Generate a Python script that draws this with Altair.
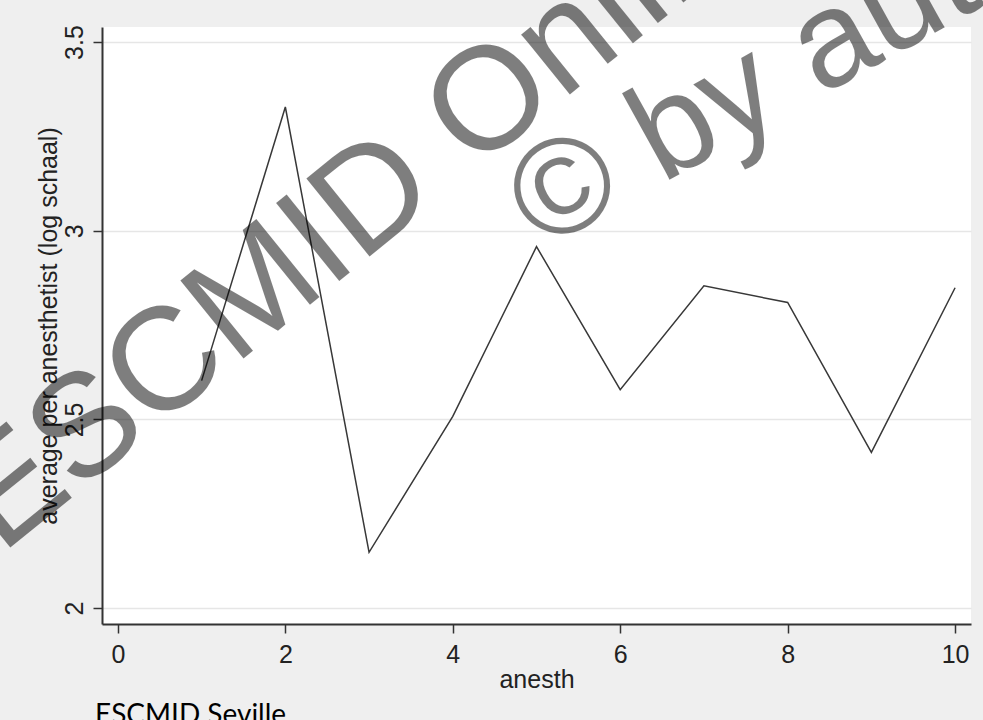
import altair as alt
import pandas as pd

# Average (log scale) per anesthetist
anesth = [1, 2, 3, 4, 5, 6, 7, 8, 9, 10]
avg_log = [2.603, 3.328, 2.148, 2.508, 2.958, 2.579, 2.854, 2.810, 2.413, 2.849]

x_ticks = [0, 2, 4, 6, 8, 10]
y_ticks = [2, 2.5, 3, 3.5]

watermark_lines = ["ESCMID Online", "© by author"]
footer_text = ["ESCMID Seville"]

FONT = "Liberation Sans"
INK = "#222222"
AXIS_DARK = "#333333"

axis_style = dict(
    domainColor=AXIS_DARK, domainWidth=2,
    tickColor=AXIS_DARK, tickSize=9, tickWidth=1.5,
    labelFont=FONT, labelFontSize=25, labelColor=INK,
    titleFont=FONT, titleFontSize=25, titleFontWeight="normal", titleColor=INK,
)

df = pd.DataFrame({"anesth": anesth, "avg": avg_log})

line = alt.Chart(df).mark_line(color="#383838", strokeWidth=1.5).encode(
    x=alt.X(
        "anesth:Q",
        scale=alt.Scale(domain=[-0.19, 10.19], nice=False, zero=False),
        axis=alt.Axis(
            values=x_ticks, format="d", title="anesth", grid=False,
            labelPadding=9, titlePadding=0, **axis_style,
        ),
    ),
    y=alt.Y(
        "avg:Q",
        scale=alt.Scale(domain=[1.958, 3.54], nice=False, zero=False),
        axis=alt.Axis(
            values=y_ticks, format=".1~f", title="average per anesthetist (log schaal)",
            grid=True, gridColor="#e6e6e6", gridWidth=1.5,
            labelAngle=270, labelAlign="center", labelBaseline="bottom",
            labelPadding=6, titlePadding=1, **axis_style,
        ),
    ),
)

# Diagonal watermark, two lines of large grey text
wm1 = alt.Chart(pd.DataFrame({"t": [watermark_lines[0]]})).mark_text(
    angle=321, align="left", baseline="alphabetic", fontSize=146, font=FONT,
    color="black", opacity=0.5,
).encode(x=alt.value(-101), y=alt.value(528), text="t:N")

wm2 = alt.Chart(pd.DataFrame({"t": [watermark_lines[1]]})).mark_text(
    angle=331, align="left", baseline="alphabetic", fontSize=136, font=FONT,
    color="black", opacity=0.5,
).encode(x=alt.value(439), y=alt.value(224), text="t:N")

footer = alt.Chart(pd.DataFrame({"t": footer_text})).mark_text(
    align="left", baseline="top", fontSize=28, font="Lato", color="black",
).encode(x=alt.value(-7), y=alt.value(675), text="t:N")

chart = (
    alt.layer(line, wm1, wm2, footer)
    .properties(
        width=869,
        height=597,
        autosize=alt.AutoSizeParams(type="none"),
        padding={"left": 102, "top": 27, "right": 12, "bottom": 96},
        background="#efefef",
    )
    .configure_view(fill="white", strokeWidth=0)
)

chart.save("out.html", embed_options={"renderer": "svg", "actions": False})
